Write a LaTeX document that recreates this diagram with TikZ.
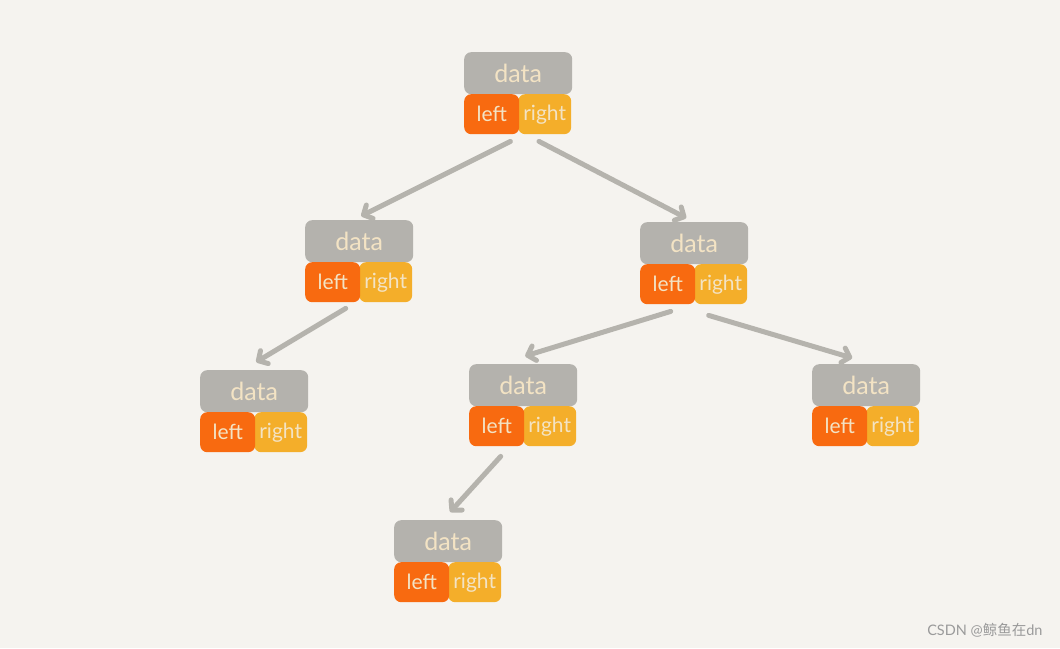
\documentclass[tikz,border=0pt]{standalone}
\usepackage{fontspec}
\setmainfont{Lato}
\newfontfamily\cjkfont{Noto Sans CJK SC}
\usetikzlibrary{arrows.meta,calc}
\definecolor{bg}{HTML}{F5F3EF}
\definecolor{boxgray}{HTML}{B4B2AD}
\definecolor{boxorange}{HTML}{F86A10}
\definecolor{boxyellow}{HTML}{F4AE2A}
\definecolor{cream}{HTML}{F3E3C4}
\definecolor{arrowgray}{HTML}{B5B3AD}
\definecolor{wm}{HTML}{9A9A9A}
\tikzset{
  databox/.style={fill=boxgray,rounded corners=7pt,minimum width=108pt,minimum height=42pt,inner sep=0pt,anchor=north west,text=cream,font=\fontsize{25}{25}\selectfont},
  leftbox/.style={fill=boxorange,rounded corners=7pt,minimum width=55pt,minimum height=40pt,inner sep=0pt,anchor=north west,text=cream,font=\fontsize{21}{21}\selectfont},
  rightbox/.style={fill=boxyellow,rounded corners=7pt,minimum width=53pt,minimum height=40pt,inner sep=0pt,anchor=north west,text=cream,font=\fontsize{21}{21}\selectfont},
  link/.style={draw=arrowgray,line width=5pt,line cap=round,-{Straight Barb[length=7pt,width=15pt,line cap=round,line join=round]}},
}
\newcommand{\treenode}[3]{%
  \node[databox] (#1) at (#2,#3) {data};
  \node[rightbox] (#1r) at ($(#2,#3)+(54,42)$) {right};
  \node[leftbox] (#1l) at ($(#2,#3)+(0,42)$) {left};
}
\begin{document}
\begin{tikzpicture}[x=1pt,y=-1pt]
\useasboundingbox (0,0) rectangle (1060,648);
\fill[bg] (0,0) rectangle (1060,648);
\treenode{T}{464}{52}
\treenode{A}{305}{220}
\treenode{B}{640}{222}
\treenode{C}{200}{370}
\treenode{D}{469}{364}
\treenode{E}{812}{364}
\treenode{F}{394}{520}
\draw[link] ($(Tl.south east)+(-9,7)$) -- ($(A.north)+(2,-4)$);
\draw[link] ($(Tr.south west)+(21,7)$) -- ($(B.north)+(-8,-4)$);
\draw[link] ($(Al.south)+(13,6)$) -- ($(C.north)+(2,-8)$);
\draw[link] ($(Bl.south)+(3,7)$) -- ($(D.north)+(2,-8)$);
\draw[link] ($(Br.south)+(-12,11)$) -- ($(E.north)+(-14,-6)$);
\draw[link] ($(Dl.south)+(4,10)$) -- ($(F.north)+(2,-8)$);
\node[text=wm,anchor=east,font=\fontsize{14.5}{14.5}\selectfont] (wmk) at (1046,630) {CSDN @{\cjkfont 鲸鱼在}dn};
\end{tikzpicture}
\end{document}
